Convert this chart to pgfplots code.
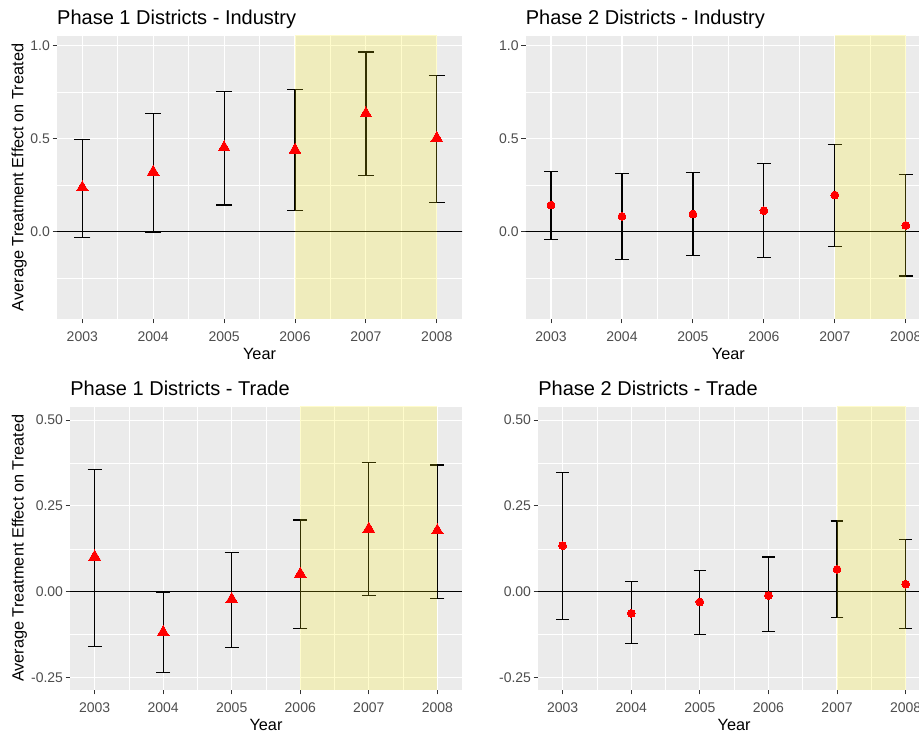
\documentclass[border=0pt]{standalone}
\usepackage{pgfplots}
\pgfplotsset{compat=1.18}
\usepackage{pgfplotstable}
\usepackage{fontspec}
\setmainfont{Liberation Sans}
\definecolor{ggbg}{HTML}{EBEBEB}
\definecolor{ggtext}{HTML}{4D4D4D}
\definecolor{ggtick}{HTML}{333333}

\pgfplotstableread{
year est lo hi
2003 0.237 -0.032 0.493
2004 0.321 -0.005 0.633
2005 0.452 0.143 0.754
2006 0.439 0.113 0.765
2007 0.634 0.301 0.964
2008 0.502 0.158 0.837
}\Pone
\pgfplotstableread{
year est lo hi
2003 0.143 -0.043 0.324
2004 0.082 -0.147 0.312
2005 0.095 -0.129 0.317
2006 0.113 -0.140 0.366
2007 0.197 -0.081 0.470
2008 0.034 -0.237 0.308
}\Ptwo
\pgfplotstableread{
year est lo hi
2003 0.102 -0.160 0.356
2004 -0.118 -0.236 -0.003
2005 -0.022 -0.163 0.114
2006 0.052 -0.108 0.209
2007 0.183 -0.011 0.376
2008 0.178 -0.020 0.369
}\Pthree
\pgfplotstableread{
year est lo hi
2003 0.134 -0.082 0.347
2004 -0.063 -0.151 0.029
2005 -0.030 -0.125 0.062
2006 -0.011 -0.117 0.101
2007 0.065 -0.076 0.206
2008 0.022 -0.108 0.153
}\Pfour

\pgfplotsset{
 ggbase/.style={
  scale only axis,
  axis background/.style={fill=ggbg},
  axis line style={draw=none},
  grid=both,
  major grid style={white, line width=1.1pt},
  minor grid style={white, line width=0.55pt},
  tick align=outside,
  major tick length=4.5pt,
  minor tick length=0pt,
  tick style={ggtick, line width=1pt},
  xtick pos=left, ytick pos=left,
  xmin=2002.643, xmax=2008.357,
  xtick={2003,2004,2005,2006,2007,2008},
  xticklabels={2003,2004,2005,2006,2007,2008},
  minor xtick={2003.5,2004.5,2005.5,2006.5,2007.5},
  /pgf/number format/assume math mode=true,
  xticklabel style={font=\fontsize{14}{16}\selectfont, text=ggtext, anchor=north, inner sep=0pt, yshift=-8pt},
  yticklabel style={font=\fontsize{14}{16}\selectfont, text=ggtext, anchor=east, inner sep=0pt, xshift=-2.5pt},
  xlabel={Year},
  xlabel style={at={(axis description cs:0.5,0)}, anchor=base, inner sep=0pt, yshift=-41pt, font=\fontsize{16.3}{19}\selectfont},
  ylabel style={anchor=base, inner sep=0pt, font=\fontsize{16.3}{19}\selectfont},
  title style={at={(axis description cs:0,1)}, anchor=base west, inner sep=0pt, yshift=5.5pt, font=\fontsize{20}{24}\selectfont},
  clip=true,
 },
 topax/.style={ymin=-0.468, ymax=1.05, ytick={0,0.5,1}, yticklabels={0.0,0.5,1.0}, minor ytick={-0.25,0.25,0.75}, height=283pt},
 botax/.style={ymin=-0.2864, ymax=0.539, ytick={-0.25,0,0.25,0.5}, yticklabels={-0.25,0.00,0.25,0.50}, minor ytick={-0.125,0.125,0.375}, height=283.3pt},
 ebar/.style={draw=none, mark=none, forget plot,
   error bars/.cd, y dir=both, y explicit, error mark=|,
   error mark options={draw=black, mark size=#1, line width=1.2pt},
   error bar style={draw=black, solid, line width=1.2pt}},
}

\begin{document}
\begin{tikzpicture}[x=1pt,y=1pt]
\useasboundingbox (0,0) rectangle (919,738);
\clip (0,0) rectangle (919,738);

% Panel 1
\begin{axis}[ggbase, topax, at={(57pt,419pt)}, anchor=south west, width=405.1pt,
  title={Phase 1 Districts - Industry},
  ylabel={Average Treatment Effect on Treated},
  ylabel style={at={(axis description cs:-0.0827,0.5)}}]
\addplot[black, line width=1pt, forget plot] coordinates {(2002,0) (2009,0)};
\addplot[ebar=8pt] table[x=year, y=est, y error plus expr=\thisrow{hi}-\thisrow{est}, y error minus expr=\thisrow{est}-\thisrow{lo}] {\Pone};
\addplot[only marks, mark=triangle*, mark size=6.7pt, mark options={draw=red, fill=red, line width=0pt}] table[x=year, y=est] {\Pone};
\addplot[draw=none, fill=yellow, fill opacity=0.2] coordinates {(2006,-1) (2006,2) (2008,2) (2008,-1)} -- cycle;
\end{axis}

% Panel 2
\begin{axis}[ggbase, topax, at={(525.7pt,419pt)}, anchor=south west, width=405.4pt,
  title={Phase 2 Districts - Industry}]
\addplot[black, line width=1pt, forget plot] coordinates {(2002,0) (2009,0)};
\addplot[ebar=7pt] table[x=year, y=est, y error plus expr=\thisrow{hi}-\thisrow{est}, y error minus expr=\thisrow{est}-\thisrow{lo}] {\Ptwo};
\addplot[only marks, mark=*, mark size=3.9pt, mark options={draw=red, fill=red, line width=0pt}] table[x=year, y=est] {\Ptwo};
\addplot[draw=none, fill=yellow, fill opacity=0.2] coordinates {(2007,-1) (2007,2) (2008,2) (2008,-1)} -- cycle;
\end{axis}

% Panel 3
\begin{axis}[ggbase, botax, at={(70.2pt,48pt)}, anchor=south west, width=391.6pt,
  title={Phase 1 Districts - Trade},
  ylabel={Average Treatment Effect on Treated},
  ylabel style={at={(axis description cs:-0.119,0.5)}}]
\addplot[black, line width=1pt, forget plot] coordinates {(2002,0) (2009,0)};
\addplot[ebar=7pt] table[x=year, y=est, y error plus expr=\thisrow{hi}-\thisrow{est}, y error minus expr=\thisrow{est}-\thisrow{lo}] {\Pthree};
\addplot[only marks, mark=triangle*, mark size=6.7pt, mark options={draw=red, fill=red, line width=0pt}] table[x=year, y=est] {\Pthree};
\addplot[draw=none, fill=yellow, fill opacity=0.2] coordinates {(2006,-1) (2006,2) (2008,2) (2008,-1)} -- cycle;
\end{axis}

% Panel 4
\begin{axis}[ggbase, botax, at={(538.2pt,48pt)}, anchor=south west, width=391.9pt,
  title={Phase 2 Districts - Trade}]
\addplot[black, line width=1pt, forget plot] coordinates {(2002,0) (2009,0)};
\addplot[ebar=6.3pt] table[x=year, y=est, y error plus expr=\thisrow{hi}-\thisrow{est}, y error minus expr=\thisrow{est}-\thisrow{lo}] {\Pfour};
\addplot[only marks, mark=*, mark size=3.9pt, mark options={draw=red, fill=red, line width=0pt}] table[x=year, y=est] {\Pfour};
\addplot[draw=none, fill=yellow, fill opacity=0.2] coordinates {(2007,-1) (2007,2) (2008,2) (2008,-1)} -- cycle;
\end{axis}
\end{tikzpicture}
\end{document}
